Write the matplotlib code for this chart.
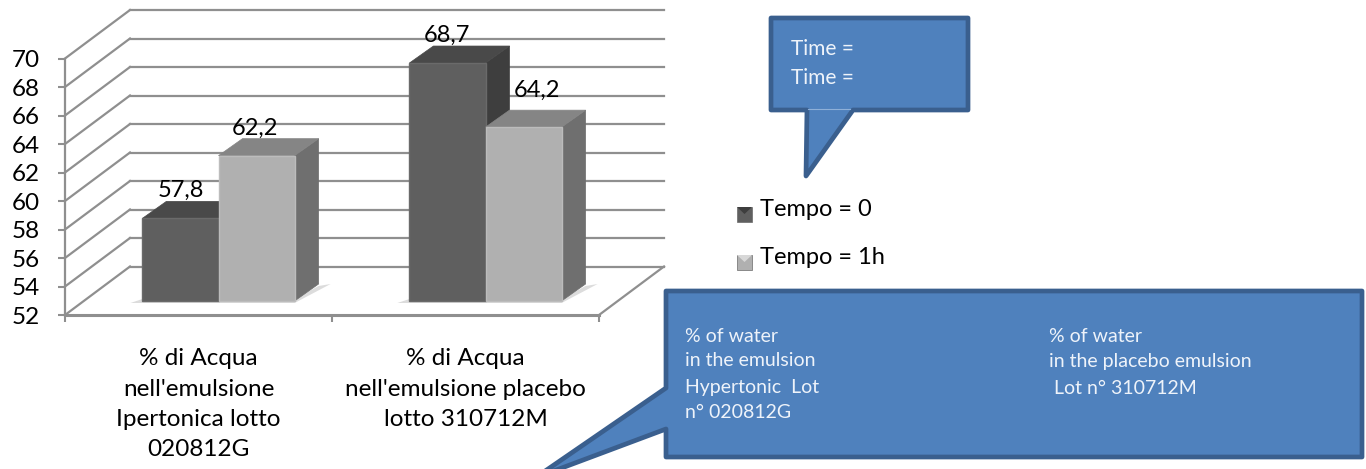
import matplotlib
matplotlib.use('Agg')
import matplotlib.pyplot as plt
from matplotlib.patches import Polygon
from matplotlib.transforms import Affine2D

categories = ["% di Acqua\nnell'emulsione\nIpertonica lotto\n020812G",
              "% di Acqua\nnell'emulsione placebo\nlotto 310712M"]
tempo_0 = [57.8, 68.7]
tempo_1 = [62.2, 64.2]
series_names = ["Tempo = 0", "Tempo = 1h"]
y_ticks = [52, 54, 56, 58, 60, 62, 64, 66, 68, 70]

plt.rcParams['font.family'] = ['Lato', 'DejaVu Sans']

W, H = 1366, 469
GRID = '#8f8f8f'
BLUE = '#4f81bd'
BLUE_EDGE = '#3a5f8e'

fig = plt.figure(figsize=(W / 100, H / 100), dpi=100)
ax = fig.add_axes([65 / W, (H - 315) / H, 534 / W, 256.5 / H])
ax.set_xlim(0, 2)
ax.set_ylim(52, 70)
ax.patch.set_visible(False)
for s in ax.spines.values():
    s.set_visible(False)


def shifted(dx, dy):
    # pixel offset on top of the data scale, gives the fake depth
    return ax.transData + Affine2D().translate(dx, dy)


wall = shifted(65, 48.5)
for v in y_ticks:
    ax.plot([0, 2], [v, v], color=GRID, lw=1.6, transform=wall, clip_on=False, zorder=1)
    # diagonal from the axis to the back wall
    p0 = ax.transData.transform((0, v))
    p1 = wall.transform((0, v))
    ax.plot([p0[0], p1[0]], [p0[1], p1[1]], color=GRID, lw=1.6, transform=None, clip_on=False, zorder=1)

p0 = ax.transData.transform((2, 52))
p1 = wall.transform((2, 52))
ax.plot([p0[0], p1[0]], [p0[1], p1[1]], color=GRID, lw=1.6, transform=None, clip_on=False, zorder=1)
ax.plot([0, 0], [52, 70], color=GRID, lw=1.6, clip_on=False, zorder=1)
ax.plot([0, 2], [52, 52], color=GRID, lw=2.2, clip_on=False, zorder=1)

ax.set_yticks(y_ticks)
ax.set_xticks([0, 1, 2], labels=['', '', ''])
ax.set_xticks([0.5, 1.5], labels=categories, minor=True)
ax.tick_params(axis='both', which='major', color=GRID, width=1.5, length=5, labelsize=17.5)
ax.tick_params(axis='y', which='major', pad=13)
ax.tick_params(axis='x', which='minor', length=0, labelsize=17.5, pad=24)
for t in ax.get_xticklabels(minor=True):
    t.set_linespacing(1.55)

bar_w = 0.285
base = shifted(20, 14)
depth_x, depth_y = 24, 17
label_shift = [[0, -1], [-2, 13]]


def draw_bar(x, val, front, edge, top, side, order):
    ax.bar(x, val - 52, bar_w, bottom=52, color=front, transform=base, align='edge',
           edgecolor=edge, lw=1, clip_on=False, zorder=order + 0.2)
    # corners of the front face in pixels, top and side are built from them
    a = base.transform((x, 52))
    b = base.transform((x + bar_w, 52))
    c = base.transform((x + bar_w, val))
    d = base.transform((x, val))
    ax.add_patch(Polygon([[a[0] - 12, a[1] - 2], [b[0], b[1] - 2], [b[0] + depth_x + 12, b[1] + depth_y],
                          [b[0] + depth_x, b[1] + depth_y - 2], [b[0], b[1] + 2], [a[0], a[1] + 2]],
                         closed=True, fc='#dcdcdc', ec='none', transform=None, clip_on=False, zorder=1.5))
    ax.add_patch(Polygon([b, c, [c[0] + depth_x, c[1] + depth_y], [b[0] + depth_x, b[1] + depth_y]],
                         closed=True, fc=side, ec=side, lw=0.5, transform=None, clip_on=False, zorder=order))
    ax.add_patch(Polygon([d, c, [c[0] + depth_x, c[1] + depth_y], [d[0] + depth_x, d[1] + depth_y]],
                         closed=True, fc=top, ec=top, lw=0.5, transform=None, clip_on=False, zorder=order + 0.1))


for i in range(2):
    draw_bar(i + 0.5 - bar_w, tempo_0[i], '#5f5f5f', '#6a6a6a', '#494949', '#3e3e3e', 2)
    draw_bar(i + 0.5, tempo_1[i], '#b0b0b0', '#bcbcbc', '#858585', '#6f6f6f', 3)

for i in range(2):
    ax.annotate(str(tempo_0[i]).replace('.', ','), (i + 0.5 - bar_w / 2, tempo_0[i]), xycoords=base,
                xytext=(label_shift[0][i], 28), textcoords='offset pixels', ha='center', va='center',
                fontsize=17, color='black', zorder=6, annotation_clip=False)
    ax.annotate(str(tempo_1[i]).replace('.', ','), (i + 0.5 + bar_w / 2, tempo_1[i]), xycoords=base,
                xytext=(label_shift[1][i], 27 + i * 10), textcoords='offset pixels', ha='center', va='center',
                fontsize=17, color='black', zorder=6, annotation_clip=False)

# overlay in image pixels for the callouts and the legend
ov = fig.add_axes([0, 0, 1, 1], zorder=5)
ov.set_xlim(0, W)
ov.set_ylim(H, 0)
ov.axis('off')

ov.add_patch(Polygon([[771, 18], [968, 18], [968, 110], [853, 110], [806, 176], [807, 110], [771, 110]],
                     closed=True, fc=BLUE, ec=BLUE_EDGE, lw=3.4, joinstyle='round'))
ov.plot([808, 850], [109, 109], color='#8fb0d8', lw=0.8)
ov.text(791, 49, 'Time =', color='#eef3fa', fontsize=15, va='center')
ov.text(791, 78, 'Time =', color='#eef3fa', fontsize=15, va='center')

ov.add_patch(Polygon([[666, 291], [1362, 291], [1362, 457], [666, 457], [666, 429], [535, 478], [666, 388]],
                     closed=True, fc=BLUE, ec=BLUE_EDGE, lw=3.4, joinstyle='round'))
box_left = ['% of water', 'in the emulsion', 'Hypertonic  Lot', 'n° 020812G']
box_right = ['% of water', 'in the placebo emulsion', ' Lot n° 310712M']
line_y = [336, 361, 388, 413]
for i, s in enumerate(box_left):
    ov.text(685, line_y[i], s, color='#eef3fa', fontsize=14, va='center')
for i, s in enumerate(box_right):
    ov.text(1049, line_y[i], s, color='#eef3fa', fontsize=14, va='center')

# legend keys with the little bevel of the 3D chart
keys = [('#5f5f5f', '#3e3e3e', '#808080'), ('#b0b0b0', '#808080', '#d8d8d8')]
for i, name in enumerate(series_names):
    y0 = 207 + i * 48
    face, dark, light = keys[i]
    ov.add_patch(Polygon([[737, y0], [752, y0], [752, y0 + 15], [737, y0 + 15]], fc=face, ec='#6a6a6a', lw=0.5))
    ov.add_patch(Polygon([[737, y0], [752, y0], [744.5, y0 + 7]], fc=light if i else dark, ec='none'))
    ov.text(760, y0 + 3, name, color='black', fontsize=17, va='center')

fig.savefig('out.png', dpi=100)
